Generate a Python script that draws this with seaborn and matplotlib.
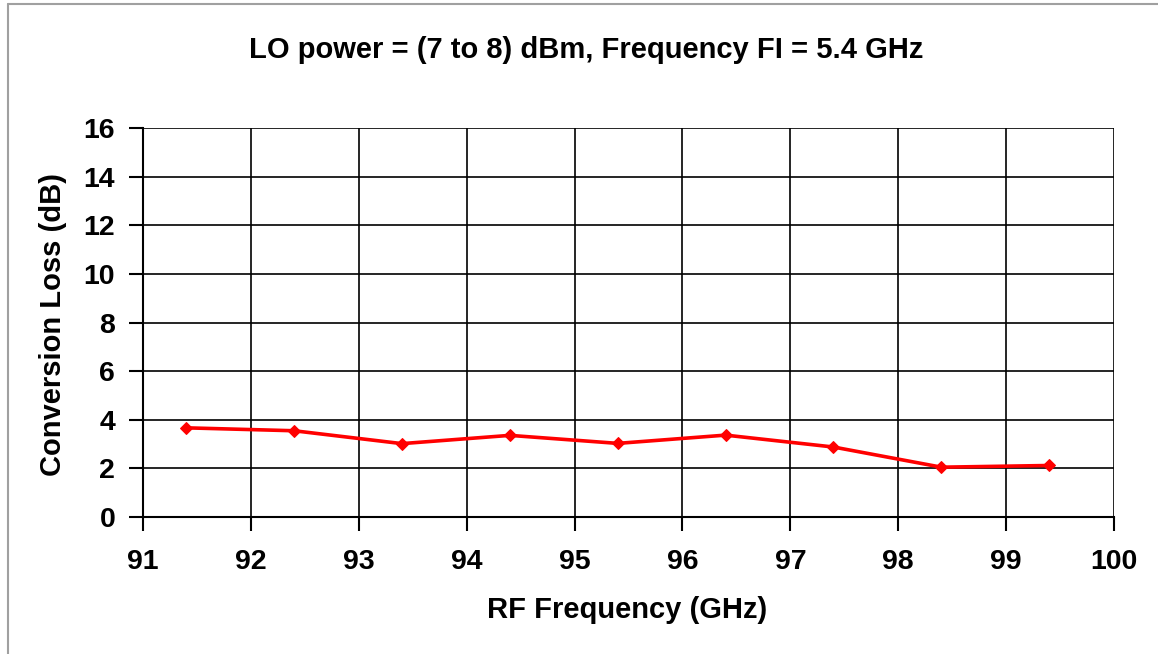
import pandas as pd
import seaborn as sns
import matplotlib.pyplot as plt
from matplotlib.lines import Line2D

# values
rf_freq = [91.4, 92.4, 93.4, 94.4, 95.4, 96.4, 97.4, 98.4, 99.4]
conv_loss = [3.67, 3.55, 3.02, 3.36, 3.03, 3.37, 2.88, 2.05, 2.12]
x_ticks = [91, 92, 93, 94, 95, 96, 97, 98, 99, 100]
y_ticks = [0, 2, 4, 6, 8, 10, 12, 14, 16]

df = pd.DataFrame({'RF Frequency (GHz)': rf_freq, 'Conversion Loss (dB)': conv_loss})

sns.set_style('white')
plt.rcParams['font.family'] = ['Liberation Sans', 'DejaVu Sans']
plt.rcParams['font.weight'] = 'bold'
plt.rcParams['text.color'] = 'black'
plt.rcParams['xtick.color'] = 'black'
plt.rcParams['ytick.color'] = 'black'

fig = plt.figure(figsize=(11.58, 6.54), dpi=100)
ax = fig.add_axes([0.1235, 0.2095, 0.962 - 0.1235, 0.8038 - 0.2095])

sns.lineplot(data=df, x='RF Frequency (GHz)', y='Conversion Loss (dB)', ax=ax,
             color='#ff0000', linewidth=2.6, marker='D', markersize=6.5,
             markeredgecolor='#ff0000')

ax.set_xlim(91, 100)
ax.set_ylim(0, 16)
ax.set_xticks(x_ticks)
ax.set_yticks(y_ticks)
ax.grid(True, color='black', linewidth=1.2)
ax.set_axisbelow(True)
for s in ['top', 'right']:
    ax.spines[s].set_visible(False)
for s in ['left', 'bottom']:
    ax.spines[s].set_color('black')
    ax.spines[s].set_linewidth(1.5)
ax.tick_params(axis='both', direction='out', length=10, width=1.5,
               labelsize=20.5, bottom=True, left=True)
ax.tick_params(axis='x', pad=13)
ax.tick_params(axis='y', pad=10)
for lab in ax.get_xticklabels() + ax.get_yticklabels():
    lab.set_fontweight('bold')

ax.set_xlabel('')
ax.set_ylabel('')
fig.text(627 / 1158, 1 - 610 / 654, 'RF Frequency (GHz)', fontsize=21,
         fontweight='bold', ha='center', va='center')
fig.text(53 / 1158, 1 - 324 / 654, 'Conversion Loss (dB)', fontsize=21,
         fontweight='bold', ha='center', va='center', rotation=90)
fig.text(586 / 1158, 1 - 50 / 654, 'LO power = (7 to 8) dBm, Frequency FI = 5.4 GHz',
         fontsize=21, fontweight='bold', ha='center', va='center')

# chart frame: only the left and top edges show in the crop
fig.lines.append(Line2D([8 / 1158, 8 / 1158], [0, 1 - 4 / 654], transform=fig.transFigure,
                        color='#a0a0a0', linewidth=1.5))
fig.lines.append(Line2D([8 / 1158, 1], [1 - 4 / 654, 1 - 4 / 654], transform=fig.transFigure,
                        color='#a0a0a0', linewidth=1.5))

plt.savefig('out.png', dpi=100)
